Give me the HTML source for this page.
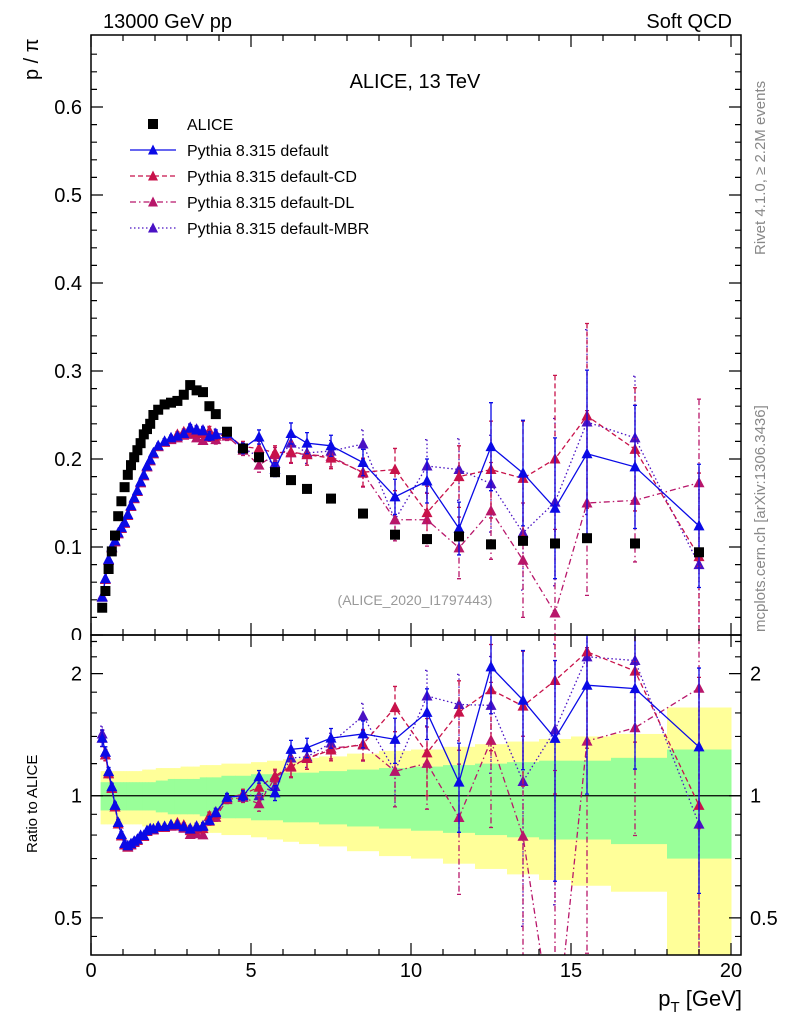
<!DOCTYPE html>
<html><head><meta charset="utf-8"><style>
html,body{margin:0;background:#fff;width:786px;height:1024px;overflow:hidden}
svg{display:block;font-family:"Liberation Sans",sans-serif}
</style></head><body>
<svg id="c" width="786" height="1024" viewBox="0 0 786 1024" style="position:absolute;left:0;top:0"></svg>
<script>
const pt=[0.35,0.45,0.55,0.65,0.75,0.85,0.95,1.05,1.15,1.25,1.35,1.45,1.55,1.65,1.75,1.85,1.95,2.1,2.3,2.5,2.7,2.9,3.1,3.3,3.5,3.7,3.9,4.25,4.75,5.25,5.75,6.25,6.75,7.5,8.5,9.5,10.5,11.5,12.5,13.5,14.5,15.5,17,19];
const alice=[0.031,0.050,0.075,0.095,0.113,0.135,0.152,0.168,0.182,0.193,0.202,0.210,0.218,0.228,0.234,0.240,0.250,0.256,0.262,0.264,0.266,0.273,0.284,0.278,0.276,0.260,0.251,0.231,0.212,0.202,0.185,0.176,0.166,0.155,0.138,0.114,0.109,0.112,0.103,0.107,0.104,0.110,0.104,0.094];
const pyDefault=[0.043,0.064,0.086,0.100,0.107,0.116,0.122,0.128,0.137,0.147,0.156,0.164,0.174,0.182,0.192,0.199,0.207,0.215,0.220,0.224,0.226,0.229,0.235,0.233,0.232,0.226,0.228,0.229,0.212,0.225,0.188,0.229,0.218,0.215,0.196,0.157,0.175,0.121,0.214,0.184,0.144,0.206,0.191,0.124];
const pyCD=[0.043,0.063,0.085,0.099,0.106,0.115,0.121,0.127,0.136,0.146,0.155,0.163,0.173,0.181,0.191,0.198,0.206,0.214,0.219,0.223,0.228,0.231,0.233,0.230,0.229,0.232,0.226,0.228,0.214,0.212,0.207,0.208,0.205,0.201,0.185,0.188,0.139,0.180,0.188,0.178,0.200,0.249,0.211,0.089];
const pyDL=[0.043,0.063,0.085,0.099,0.106,0.115,0.121,0.127,0.136,0.146,0.155,0.163,0.173,0.181,0.191,0.198,0.206,0.214,0.219,0.222,0.224,0.227,0.228,0.224,0.221,0.225,0.222,0.226,0.210,0.193,0.205,0.207,0.205,0.203,0.184,0.131,0.131,0.099,0.141,0.085,0.025,0.150,0.153,0.173];
const pyMBR=[0.044,0.064,0.086,0.100,0.107,0.116,0.122,0.128,0.137,0.147,0.156,0.164,0.174,0.182,0.192,0.199,0.207,0.215,0.220,0.224,0.226,0.229,0.236,0.234,0.233,0.231,0.229,0.228,0.213,0.202,0.195,0.218,0.207,0.209,0.217,0.131,0.192,0.188,0.172,0.116,0.151,0.242,0.224,0.080];
const errDefault=[0.002,0.002,0.002,0.002,0.002,0.002,0.002,0.002,0.002,0.002,0.002,0.002,0.002,0.002,0.002,0.002,0.002,0.003,0.003,0.003,0.003,0.003,0.004,0.004,0.004,0.005,0.005,0.005,0.006,0.008,0.008,0.012,0.012,0.012,0.015,0.020,0.025,0.030,0.050,0.060,0.080,0.095,0.070,0.070];
const errOther=[0.002,0.002,0.002,0.002,0.002,0.002,0.002,0.002,0.002,0.002,0.002,0.002,0.002,0.002,0.002,0.002,0.002,0.003,0.003,0.003,0.003,0.003,0.004,0.004,0.004,0.005,0.005,0.005,0.006,0.008,0.008,0.012,0.012,0.012,0.016,0.024,0.030,0.035,0.055,0.065,0.095,0.105,0.070,0.095];
const bandInner=[0.08,0.08,0.08,0.08,0.08,0.08,0.08,0.08,0.08,0.08,0.08,0.08,0.08,0.08,0.08,0.08,0.08,0.09,0.09,0.10,0.10,0.10,0.10,0.10,0.11,0.11,0.11,0.12,0.12,0.13,0.13,0.14,0.14,0.15,0.16,0.17,0.18,0.19,0.20,0.21,0.22,0.22,0.24,0.30];
const bandOuter=[0.15,0.15,0.15,0.15,0.15,0.15,0.15,0.15,0.15,0.15,0.15,0.15,0.15,0.16,0.16,0.16,0.16,0.17,0.17,0.17,0.17,0.18,0.18,0.18,0.19,0.19,0.19,0.20,0.20,0.21,0.22,0.23,0.24,0.25,0.27,0.29,0.30,0.32,0.34,0.36,0.38,0.40,0.42,0.65];
const xTicks=["0","5","10","15","20"];
const yTicks=["0","0.1","0.2","0.3","0.4","0.5","0.6"];
const rTicks=["0.5","1","2"];

const NS="http://www.w3.org/2000/svg",svg=document.getElementById('c');
const L=91,R=741,T=35,MB=635,RB=955;
const X=v=>L+v*32, Y=v=>MB-v*880;
const RMAX=2.49,RMIN=0.405;
const YR=v=>T+600+ (Math.log(RMAX)-Math.log(v))/(Math.log(RMAX)-Math.log(RMIN))*320;
function el(t,a,p){const e=document.createElementNS(NS,t);for(const k in a)e.setAttribute(k,a[k]);(p||svg).appendChild(e);return e;}
function txt(s,a,p){const e=el('text',a,p);e.textContent=s;return e;}
const defs=el('defs',{});
const c1=el('clipPath',{id:'cm'},defs);el('rect',{x:L,y:T,width:R-L,height:MB-T},c1);
const c2=el('clipPath',{id:'cr'},defs);el('rect',{x:L,y:MB,width:R-L,height:RB-MB},c2);
const gMain=el('g',{'clip-path':'url(#cm)'});


const gRat=el('g',{'clip-path':'url(#cr)'});



function edges(i){const lo=i==0?pt[0]-0.05:(pt[i-1]+pt[i])/2;const hi=i==pt.length-1?20:(pt[i]+pt[i+1])/2;return [lo,hi];}
[[bandOuter,'#ffff99','band-outer'],[bandInner,'#99ff99','band-inner']].forEach(([b,col,nm])=>{
  for(let i=0;i<pt.length;i++){const [lo,hi]=edges(i);const top=YR(1+b[i]),bot=YR(Math.max(1-b[i],0.3));
    const r=el('rect',{x:X(lo),y:top,width:X(hi)-X(lo)+0.5,height:bot-top,fill:col},gRat);
    
    }
});
const one=el('line',{x1:L,x2:R,y1:YR(1),y2:YR(1),stroke:'#000','stroke-width':1.2},gRat);



function tri(g,x,y,col){return el('path',{d:`M${x-5.5},${y+4.5}L${x+5.5},${y+4.5}L${x},${y-6}Z`,fill:col},g);}
const series=[
 [pyMBR,errOther,'#4a12c4','1.5,2.5','series-pythia-mbr'],
 [pyDL,errOther,'#b8166a','6,3,1.5,3','series-pythia-dl'],
 [pyCD,errOther,'#c8124a','5,3','series-pythia-cd'],
 [pyDefault,errDefault,'#0a0ae6',null,'series-pythia-default']];
series.forEach(([v,e,col,dash,nm])=>{
  [[gMain,Y,i=>v[i],i=>e[i],-0.1],[gRat,YR,i=>v[i]/alice[i],i=>e[i]/alice[i],0.2]].forEach(([g,ys,fv,fe,fl],k)=>{
    const gg=el('g',{},g);
    
    
    let d='';
    for(let i=0;i<pt.length;i++){const val=Math.max(fv(i),fl);d+=(i?'L':'M')+X(pt[i])+','+ys(val);}
    const ln=el('path',{d,fill:'none',stroke:col,'stroke-width':1.3},gg);
    if(dash)ln.setAttribute('stroke-dasharray',dash);
    for(let i=0;i<pt.length;i++){const val=fv(i),er=fe(i);const x=X(pt[i]);
      const y1=ys(val+er),y2=ys(Math.max(val-er,fl));
      const eb=el('path',{d:`M${x},${y1}L${x},${y2}M${x-2},${y1}L${x+2},${y1}M${x-2},${y2}L${x+2},${y2}`,stroke:col,'stroke-width':1.3,fill:'none'},gg);
      if(dash)eb.setAttribute('stroke-dasharray',dash);
      const m=tri(gg,x,ys(Math.max(val,fl)),col);
      
      }
  });
});
for(let i=0;i<pt.length;i++){const s=el('rect',{x:X(pt[i])-5,y:Y(alice[i])-5,width:10,height:10,fill:'#000'},gMain);
  
  }

[[T,MB,'main-frame'],[MB,RB,'ratio-frame']].forEach(([a,b,nm])=>{const f=el('rect',{x:L,y:a,width:R-L,height:b-a,fill:'none',stroke:'#000','stroke-width':1.5});
  
  });
let td='';
for(let v=0;v<=20;v++){const x=X(v),len=v%5==0?12:6;td+=`M${x},${MB}L${x},${MB-len}M${x},${T}L${x},${T+len}M${x},${RB}L${x},${RB-len}M${x},${MB}L${x},${MB+len}`;}
for(let v=0;v<=0.68;v+=0.02){const y=Y(v),len=Math.round(v*100)%10==0?12:6;td+=`M${L},${y}L${L+len},${y}M${R},${y}L${R-len},${y}`;}
[0.5,0.6,0.7,0.8,0.9,1,2].forEach(v=>{const y=YR(v),len=(v==0.5||v==1||v==2)?12:6;td+=`M${L},${y}L${L+len},${y}M${R},${y}L${R-len},${y}`;});
[0.45,1.2,1.4,1.6,1.8,2.2,2.4].forEach(v=>{const y=YR(v);td+=`M${L},${y}L${L+6},${y}M${R},${y}L${R-6},${y}`;});
const tk=el('path',{d:td,stroke:'#000','stroke-width':1.2,fill:'none'});


xTicks.forEach(s=>{const t=txt(s,{x:X(+s),y:977,'font-size':20,'text-anchor':'middle'});
  
  });
yTicks.forEach(s=>{const t=txt(s,{x:82,y:Y(+s)+7,'font-size':20,'text-anchor':'end'});
  
  });
rTicks.forEach(s=>{const a=txt(s,{x:82,y:YR(+s)+7,'font-size':20,'text-anchor':'end'});
  
  
  const b=txt(s,{x:750,y:YR(+s)+7,'font-size':20});
  
  });
const m0=el('rect',{x:40,y:640,width:45,height:10,fill:'#fff'});


</script>
<svg width="786" height="1024" style="position:absolute;left:0;top:0;font-family:'Liberation Sans',sans-serif">
<text x="103" y="28" font-size="20">13000 GeV pp</text>
<text x="732" y="28" font-size="20" text-anchor="end">Soft QCD</text>
<text x="415" y="88" font-size="20" text-anchor="middle">ALICE, 13 TeV</text>
<text x="415" y="605" font-size="14" fill="#999" text-anchor="middle">(ALICE_2020_I1797443)</text>
<text transform="translate(38,80) rotate(-90)" font-size="20">p / π</text>
<text transform="translate(37,853) rotate(-90)" font-size="15">Ratio to ALICE</text>
<text transform="translate(765,255) rotate(-90)" font-size="15" fill="#888">Rivet 4.1.0, ≥ 2.2M events</text>
<text transform="translate(765,632) rotate(-90)" font-size="15" fill="#888">mcplots.cern.ch [arXiv:1306.3436]</text>
<text x="742" y="1006" font-size="22" text-anchor="end">p<tspan font-size="15" dy="6">T</tspan><tspan dy="-6"> [GeV]</tspan></text>
<g font-size="16">
<rect x="148" y="119" width="10" height="10" fill="#000"/>
<text x="187" y="130">ALICE</text>
<line x1="130" x2="176" y1="150" y2="150" stroke="#0a0ae6" stroke-width="1.3"/>
<path d="M148,154.5L158,154.5L153,144.5Z" fill="#0a0ae6"/>
<text x="187" y="156">Pythia 8.315 default</text>
<line x1="130" x2="176" y1="176" y2="176" stroke="#c8124a" stroke-width="1.3" stroke-dasharray="5,3"/>
<path d="M148,180.5L158,180.5L153,170.5Z" fill="#c8124a"/>
<text x="187" y="182">Pythia 8.315 default-CD</text>
<line x1="130" x2="176" y1="202" y2="202" stroke="#b8166a" stroke-width="1.3" stroke-dasharray="6,3,1.5,3"/>
<path d="M148,206.5L158,206.5L153,196.5Z" fill="#b8166a"/>
<text x="187" y="208">Pythia 8.315 default-DL</text>
<line x1="130" x2="176" y1="228" y2="228" stroke="#4a12c4" stroke-width="1.3" stroke-dasharray="1.5,2.5"/>
<path d="M148,232.5L158,232.5L153,222.5Z" fill="#4a12c4"/>
<text x="187" y="234">Pythia 8.315 default-MBR</text>
</g>
</svg>
</body></html>
